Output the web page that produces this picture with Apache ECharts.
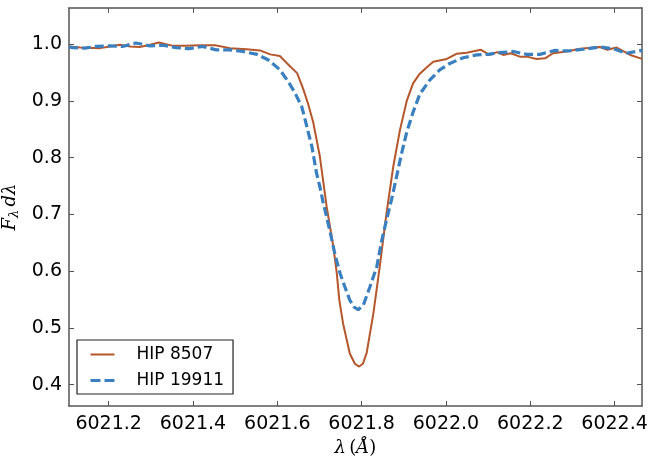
<!DOCTYPE html>
<html>
<head>
<meta charset="utf-8">
<script src="https://cdn.jsdelivr.net/npm/echarts@6/dist/echarts.min.js"></script>
<style>html,body{margin:0;padding:0;background:#fff}#c{width:651px;height:461px}</style>
</head>
<body>
<div id="c"></div>
<script>
// ---- data ----
const xTicks = [6021.2, 6021.4, 6021.6, 6021.8, 6022.0, 6022.2, 6022.4];
const yTicks = [0.4, 0.5, 0.6, 0.7, 0.8, 0.9, 1.0];
const seriesNames = ["HIP 8507", "HIP 19911"];

const lamA = [6021.106,6021.132,6021.180,6021.203,6021.227,6021.251,6021.274,6021.298,6021.319,6021.353,
  6021.383,6021.417,6021.452,6021.488,6021.527,6021.559,6021.583,6021.606,6021.630,6021.647,
  6021.661,6021.673,6021.685,6021.701,6021.717,6021.733,6021.741,6021.747,6021.756,6021.772,
  6021.784,6021.794,6021.803,6021.812,6021.828,6021.843,6021.859,6021.875,6021.891,6021.907,
  6021.922,6021.938,6021.954,6021.970,6022.002,6022.025,6022.049,6022.083,6022.104,6022.121,
  6022.136,6022.154,6022.175,6022.192,6022.215,6022.235,6022.254,6022.286,6022.318,6022.365,
  6022.383,6022.405,6022.437,6022.465];
const fluxA = [0.996,0.994,0.993,0.996,0.999,0.996,0.995,0.999,1.003,0.997,
  0.997,0.998,0.998,0.993,0.991,0.989,0.982,0.979,0.961,0.949,
  0.922,0.895,0.863,0.802,0.714,0.643,0.597,0.550,0.508,0.455,
  0.437,0.432,0.437,0.456,0.526,0.608,0.702,0.784,0.849,0.900,
  0.931,0.948,0.959,0.969,0.974,0.983,0.985,0.990,0.981,0.986,
  0.981,0.984,0.978,0.978,0.974,0.975,0.984,0.987,0.992,0.995,
  0.990,0.994,0.981,0.974];

const lamB = [6021.106,6021.115,6021.144,6021.170,6021.201,6021.233,6021.265,6021.298,6021.328,6021.360,
  6021.391,6021.423,6021.455,6021.486,6021.519,6021.552,6021.579,6021.606,6021.626,6021.642,
  6021.658,6021.666,6021.674,6021.682,6021.693,6021.701,6021.709,6021.717,6021.725,6021.737,
  6021.749,6021.760,6021.772,6021.782,6021.792,6021.804,6021.820,6021.836,6021.848,6021.859,
  6021.871,6021.883,6021.895,6021.907,6021.922,6021.938,6021.962,6021.986,6022.009,6022.041,
  6022.073,6022.100,6022.128,6022.160,6022.192,6022.223,6022.259,6022.289,6022.326,6022.365,
  6022.397,6022.428,6022.465];
const fluxB = [0.995,0.994,0.993,0.996,0.997,0.996,1.002,0.997,0.998,0.994,
  0.992,0.996,0.990,0.990,0.987,0.982,0.972,0.955,0.934,0.914,
  0.890,0.867,0.843,0.820,0.773,0.749,0.720,0.696,0.670,0.629,
  0.596,0.573,0.549,0.537,0.532,0.540,0.573,0.608,0.655,0.690,
  0.726,0.767,0.808,0.845,0.880,0.912,0.937,0.955,0.966,0.976,
  0.981,0.982,0.985,0.987,0.982,0.982,0.989,0.988,0.991,0.995,
  0.992,0.984,0.989];

const X_MIN = 6021.106, X_MAX = 6022.465, Y_MIN = 0.3625, Y_MAX = 1.0637;

const pairs = (xs, ys) => xs.map((x, i) => [x, ys[i]]);
const frame = '#555555';
const tickFont = {fontFamily: 'DejaVu Sans', fontSize: 19, color: '#000'};
const colA = '#b5562b', colB = '#3a80c1';

const chart = echarts.init(document.getElementById('c'), null, {renderer: 'canvas'});
const baseAxis = {
  splitLine: {show: false},
  axisLine: {show: true, onZero: false, lineStyle: {color: frame, width: 1.5}},
  axisTick: {show: true, inside: true, length: 5, lineStyle: {color: frame, width: 1}}
};
chart.setOption({
  animation: false,
  backgroundColor: '#fff',
  grid: {left: 69, right: 9, top: 8, bottom: 55, containLabel: false, outerBoundsMode: 'none'},
  legend: {
    orient: 'vertical', left: 77, top: 340,
    data: [
      {name: seriesNames[0]},
      {name: seriesNames[1], lineStyle: {type: [10, 4], width: 3}}
    ],
    itemStyle: {opacity: 0},
    borderColor: '#222', borderWidth: 1.2, borderRadius: 0,
    padding: [6, 9, 5, 12], itemGap: 9, itemWidth: 24, itemHeight: 18,
    textStyle: {fontFamily: 'DejaVu Sans', fontSize: 17, color: '#000', padding: [0, 0, 0, 17]}
  },
  xAxis: [
    Object.assign({}, baseAxis, {
      type: 'value', position: 'bottom', min: X_MIN, max: X_MAX,
      axisTick: Object.assign({}, baseAxis.axisTick, {customValues: xTicks}),
      axisLabel: Object.assign({}, tickFont, {customValues: xTicks, margin: 9, formatter: v => v.toFixed(1)}),
      name: '{i|λ} {n|(}{i|Å}{n|)}', nameLocation: 'middle', nameGap: 33,
      nameTextStyle: {rich: {
        i: {fontFamily: 'DejaVu Serif', fontStyle: 'italic', fontSize: 18, color: '#000'},
        n: {fontFamily: 'DejaVu Serif', fontSize: 18, color: '#000'}}}
    }),
    Object.assign({}, baseAxis, {
      type: 'value', position: 'top', min: X_MIN, max: X_MAX,
      axisTick: Object.assign({}, baseAxis.axisTick, {customValues: xTicks}),
      axisLabel: {show: false}
    })
  ],
  yAxis: [
    Object.assign({}, baseAxis, {
      type: 'value', position: 'left', min: Y_MIN, max: Y_MAX,
      axisTick: Object.assign({}, baseAxis.axisTick, {customValues: yTicks}),
      axisLabel: Object.assign({}, tickFont, {customValues: yTicks, margin: 7, formatter: v => v.toFixed(1)}),
      name: '{i|F}{s|λ} {i|dλ}', nameLocation: 'middle', nameGap: 44, nameRotate: 90,
      nameTextStyle: {rich: {
        i: {fontFamily: 'DejaVu Serif', fontStyle: 'italic', fontSize: 18, color: '#000'},
        s: {fontFamily: 'DejaVu Serif', fontStyle: 'italic', fontSize: 13, color: '#000', verticalAlign: 'bottom', padding: [8, 0, 0, 0]}}}
    }),
    Object.assign({}, baseAxis, {
      type: 'value', position: 'right', min: Y_MIN, max: Y_MAX,
      axisTick: Object.assign({}, baseAxis.axisTick, {customValues: yTicks}),
      axisLabel: {show: false}
    })
  ],
  series: [
    {name: seriesNames[0], type: 'line', xAxisIndex: 0, yAxisIndex: 0, data: pairs(lamA, fluxA),
     showSymbol: false, symbol: 'none', smooth: false, color: colA,
     lineStyle: {color: colA, width: 2}},
    {name: seriesNames[1], type: 'line', xAxisIndex: 0, yAxisIndex: 0, data: pairs(lamB, fluxB),
     showSymbol: false, symbol: 'none', smooth: false, color: colB,
     lineStyle: {color: colB, width: 3.2, type: [9, 4]}}
  ]
});
</script>
</body>
</html>
